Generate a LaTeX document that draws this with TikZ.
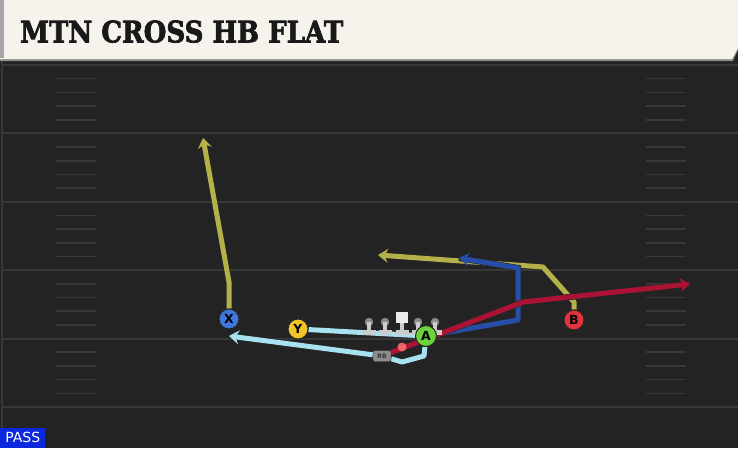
\documentclass[tikz,border=0pt]{standalone}
\usepackage{fontspec}
\setmainfont{DejaVu Sans}
\newfontfamily\titlefont{DejaVu Serif}[FakeBold=2.5]
\usetikzlibrary{arrows.meta, backgrounds}
\pgfdeclarelayer{routes}
\pgfsetlayers{background,routes,main}
\definecolor{fieldbg}{RGB}{35,35,35}
\definecolor{fieldline}{RGB}{56,56,56}
\definecolor{titlecream}{RGB}{245,243,236}
\definecolor{routeyellow}{RGB}{180,176,74}
\definecolor{routered}{RGB}{172,18,52}
\definecolor{routeblue}{RGB}{38,78,168}
\definecolor{routelblue}{RGB}{168,226,240}
\definecolor{xblue}{RGB}{62,120,222}
\definecolor{yyellow}{RGB}{242,196,40}
\definecolor{agreen}{RGB}{108,210,58}
\definecolor{bred}{RGB}{226,50,60}
\definecolor{passblue}{RGB}{12,40,220}
\tikzset{x=1pt, y=-1pt,
         >={Stealth[length=10pt, width=14pt, inset=3.5pt]},
         yardline/.style={fieldline, line width=2pt},
         hash/.style={fieldline, line width=1.6pt},
         route/.style={line width=5pt, line join=round,
                       preaction={draw=black!85, line width=6.2pt, -}},
         yroute/.style={route, routeyellow},
         rroute/.style={route, routered},
         broute/.style={route, routeblue},
         lbroute/.style={route, routelblue},
         player/.style={circle, draw=black!85, line width=1pt, minimum size=20pt,
                        inner sep=0pt, font=\fontsize{12.5}{12.5}\bfseries},
         lineman/.style={fill=black!20},
         }

\begin{document}
\begin{tikzpicture}
    \useasboundingbox (0,0) rectangle (738,448);
    % field
    \begin{pgfonlayer}{background}
    \fill[fieldbg] (0,0) rectangle (738,448);
    \draw[fieldline, line width=2.5pt] (2,60) -- (2,448);
    \foreach \k in {0,...,5}
        \draw[yardline] (3,{65+68.4*\k}) -- (738,{65+68.4*\k});
    \foreach \k in {0,...,4}
        \foreach \j in {1,...,4} {
            \draw[hash] (56,{65+68.4*\k+13.68*\j}) -- (96,{65+68.4*\k+13.68*\j});
            \draw[hash] (646,{65+68.4*\k+13.68*\j}) -- (686,{65+68.4*\k+13.68*\j});
        }
    \end{pgfonlayer}

    % title bar
    \fill[black!45] (0,0) -- (738,0) -- (738,50) -- (733,61) -- (0,61) -- cycle;
    \fill[titlecream] (0,0) -- (738,0) -- (738,48) -- (732,59) -- (0,59) -- cycle;
    \fill[black!35] (0,0) rectangle (4,58);
    \node[anchor=south west, inner sep=0pt] (title) at (20,43)
        {\resizebox{323pt}{22pt}{\titlefont\bfseries\color{black!90}MTN CROSS HB FLAT}};

    % line
    \foreach \x/\n in {369/LT, 385/LG, 418/RG, 435/RT} {
        \coordinate (\n) at (\x,322);
        \fill[black!45] (\n) circle (4.2pt);
        \fill[lineman] ({\x-2.2},322) rectangle ({\x+2.2},331);
        \fill[lineman] ({\x-6.5},330) rectangle ({\x+6.5},335);
    }
    \coordinate (C) at (402,318);
    \fill[white!92!black] (396,312) rectangle (408,323);
    \fill[lineman] (399.8,323) rectangle (404.2,331);
    \fill[lineman] (395.5,330) rectangle (408.5,335);

    % players
    \node[player, fill=xblue] (X) at (229,319) {X};
    \node[player, fill=yyellow] (Y) at (298,329) {Y};
    \node[player, fill=agreen, minimum size=21pt] (A) at (426,336) {A};
    \node[player, fill=bred] (B) at (574,320) {B};
    \node[draw=black!80, fill=black!45, rounded corners=2pt, minimum width=18pt,
          minimum height=11pt, inner sep=0pt, font=\fontsize{6}{6}\bfseries,
          text=black!80] (RB) at (382,356) {RB};
    \fill[red!55!white, opacity=0.85] (402,347) circle (4.5pt);

    % routes
    \begin{pgfonlayer}{routes}
    \draw[yroute, ->] (X) -- (229,282) -- (203,138);
    \draw[yroute, ->] (B) -- (574,302) -- (543,267) -- (378,255);
    \draw[lbroute] (Y) -- (A);
    \draw[lbroute, ->] (A) -- (424,356) -- (402,362) -- (RB) -- (229,336);
    \draw[broute, ->] (A) -- (518,320) -- (518,268) -- (459,258);
    \draw[rroute, ->] (RB) -- (523,302) -- (690,284);
    \end{pgfonlayer}

    % play type
    \node[anchor=south west, fill=passblue, text=white, inner sep=0pt,
          minimum width=45pt, minimum height=20pt, font=\fontsize{14}{14}\selectfont]
          (pass) at (0,448) {PASS};
\end{tikzpicture}
\end{document}
